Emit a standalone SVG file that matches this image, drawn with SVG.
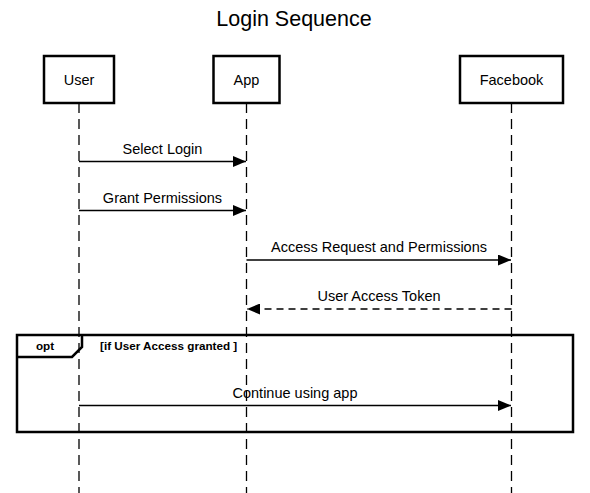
<svg xmlns="http://www.w3.org/2000/svg" width="590" height="493" viewBox="0 0 590 493">
<style>
text{font-family:"Liberation Sans",Arial,sans-serif;fill:#000}
.box{fill:#fff;stroke:#000;stroke-width:2.5}
.lbl{font-size:14.5px;text-anchor:middle}
.life{stroke:#000;stroke-width:1.3;stroke-dasharray:10,6;fill:none}
.msg{stroke:#000;stroke-width:1.3;fill:none}
.ret{stroke:#000;stroke-width:1.3;fill:none;stroke-dasharray:7,5}
.frag{fill:none;stroke:#000;stroke-width:2.5}
.b{font-size:11.7px;font-weight:bold}
</style>
<defs>
<marker id="ah" viewBox="0 0 13 11" refX="13" refY="5.5" markerWidth="13" markerHeight="11" markerUnits="userSpaceOnUse" orient="auto">
<path d="M0,0 L13,5.5 L0,11 Z" fill="#000"/>
</marker>
</defs>
<rect width="590" height="493" fill="#fff"/>
<text x="294" y="26" font-size="21.5" text-anchor="middle">Login Sequence</text>
<g id="connectors">
<line class="life" x1="79" y1="103" x2="79" y2="493"/>
<line class="life" x1="246.5" y1="103" x2="246.5" y2="493"/>
<line class="life" x1="511.5" y1="103" x2="511.5" y2="493"/>
<line class="msg" x1="79" y1="161.5" x2="246" y2="161.5" marker-end="url(#ah)"/>
<text class="lbl" x="162.5" y="154">Select Login</text>
<line class="msg" x1="79" y1="210.5" x2="246" y2="210.5" marker-end="url(#ah)"/>
<text class="lbl" x="162.5" y="203">Grant Permissions</text>
<line class="msg" x1="246.5" y1="260" x2="511" y2="260" marker-end="url(#ah)"/>
<text class="lbl" x="379" y="252">Access Request and Permissions</text>
<line class="ret" x1="511.5" y1="309" x2="247" y2="309" marker-end="url(#ah)"/>
<text class="lbl" x="379" y="301">User Access Token</text>
<line class="msg" x1="79" y1="405.5" x2="511" y2="405.5" marker-end="url(#ah)"/>
<text class="lbl" x="295" y="398">Continue using app</text>
</g>
<g id="opt">
<rect class="frag" x="17" y="335" width="556" height="97"/>
<path class="frag" d="M17,357 L72,357 L82,347 L82,335"/>
<text class="b" x="45" y="350" text-anchor="middle">opt</text>
<text class="b" x="100" y="350">[if User Access granted ]</text>
</g>
<g id="user">
<rect class="box" x="44" y="56" width="70" height="47"/>
<text class="lbl" x="79" y="85">User</text>
</g>
<g id="app">
<rect class="box" x="213.5" y="56" width="66" height="47"/>
<text class="lbl" x="246.5" y="85">App</text>
</g>
<g id="facebook">
<rect class="box" x="460" y="56" width="103" height="47"/>
<text class="lbl" x="511.5" y="85">Facebook</text>
</g>
</svg>
